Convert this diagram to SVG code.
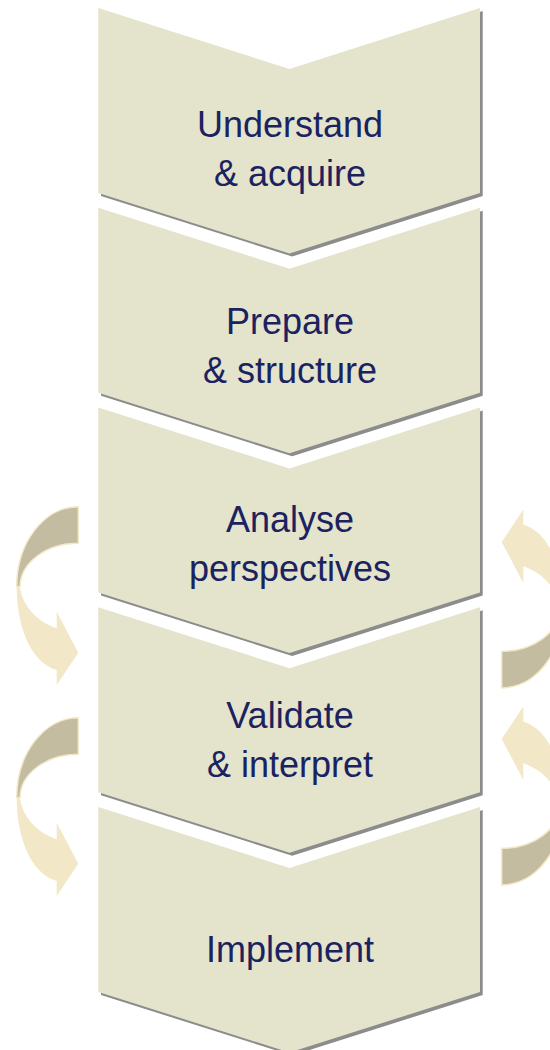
<svg xmlns="http://www.w3.org/2000/svg" xmlns:xlink="http://www.w3.org/1999/xlink" width="550" height="1050" viewBox="0 0 550 1050">
  <style>
    .step { fill: #E4E3CB; }
    .shadow { fill: #8C8C8C; }
    .label { font-family: "Liberation Sans", Arial, Helvetica, sans-serif; font-size: 36px; fill: #1A2260; text-anchor: middle; }
    .loop-front { fill: #F2E8C8; }
    .loop-back { fill: #C4BCA0; stroke: #F2E8C8; stroke-width: 1.5; stroke-linejoin: round; }
  </style>
  <defs>
    <!-- chevron step outline, top corners at y=0 -->
    <polygon id="chevron" points="98.3,0 289.5,61 480,0 480,185 289.5,245.5 98.3,185"/>
    <!-- curved feedback arrow: back face on top, head pointing right at the bottom -->
    <g id="loop">
      <path class="loop-front" d="M20,586.7 L16.7,586.7 C16.7,625 30,662 56.7,670 L56.7,685 L78.3,652.7 L56.7,611.7 L56.7,628.3 C38,622 22,606 20,586.7 Z"/>
      <path class="loop-back" d="M78.3,506.7 A61.6,80 0 0 0 16.7,586.7 L20,586.7 A58.3,43.7 0 0 1 78.3,543.3 Z"/>
    </g>
  </defs>

  <g id="connectors">
    <use xlink:href="#loop"/>
    <use xlink:href="#loop" transform="translate(0,211)"/>
    <use xlink:href="#loop" transform="rotate(180 290 597.3)"/>
    <use xlink:href="#loop" transform="translate(0,197) rotate(180 290 597.3)"/>
  </g>

  <g id="step-understand">
    <g transform="translate(0,8)">
      <use xlink:href="#chevron" class="shadow" transform="translate(2.7,3)"/>
      <use xlink:href="#chevron" class="step"/>
    </g>
    <text class="label" x="290" y="137">Understand</text>
    <text class="label" x="290" y="186">&amp; acquire</text>
  </g>

  <g id="step-prepare">
    <g transform="translate(0,207.75)">
      <use xlink:href="#chevron" class="shadow" transform="translate(2.7,3)"/>
      <use xlink:href="#chevron" class="step"/>
    </g>
    <text class="label" x="290" y="334">Prepare</text>
    <text class="label" x="290" y="383">&amp; structure</text>
  </g>

  <g id="step-analyse">
    <g transform="translate(0,407.5)">
      <use xlink:href="#chevron" class="shadow" transform="translate(2.7,3)"/>
      <use xlink:href="#chevron" class="step"/>
    </g>
    <text class="label" x="290" y="532">Analyse</text>
    <text class="label" x="290" y="581">perspectives</text>
  </g>

  <g id="step-validate">
    <g transform="translate(0,607.25)">
      <use xlink:href="#chevron" class="shadow" transform="translate(2.7,3)"/>
      <use xlink:href="#chevron" class="step"/>
    </g>
    <text class="label" x="290" y="728">Validate</text>
    <text class="label" x="290" y="777">&amp; interpret</text>
  </g>

  <g id="step-implement">
    <g transform="translate(0,807)">
      <use xlink:href="#chevron" class="shadow" transform="translate(2.7,3)"/>
      <use xlink:href="#chevron" class="step"/>
    </g>
    <text class="label" x="290" y="962">Implement</text>
  </g>
</svg>
